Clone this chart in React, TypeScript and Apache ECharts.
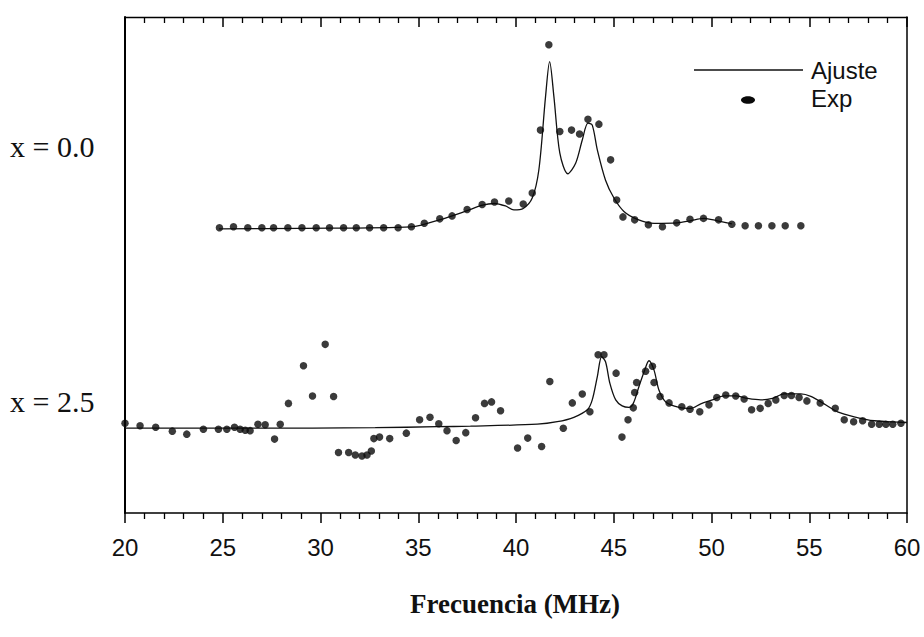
import React, { useEffect, useRef } from "react";
import * as echarts from "echarts";

// x = 0.0 : experimental points [MHz, a.u.]
const expTop: number[][] = [
  [24.83, 57.5], [25.55, 57.7], [26.28, 57.5], [27.0, 57.5], [27.6, 57.5], [28.33, 57.5],
  [29.05, 57.5], [29.78, 57.5], [30.46, 57.5], [31.18, 57.5], [31.83, 57.5], [32.51, 57.5],
  [33.23, 57.5], [33.97, 57.5], [34.65, 57.7], [35.31, 58.4], [36.1, 59.3], [36.73, 59.9],
  [37.5, 61.2], [38.27, 62.2], [38.9, 62.7], [39.63, 62.9], [40.37, 62.3], [40.83, 64.5],
  [41.25, 77.2], [41.68, 94.4], [42.24, 76.9], [42.84, 77.2], [43.25, 76.4], [43.68, 79.4],
  [44.24, 78.4], [44.84, 71.2], [45.15, 63.1], [45.47, 59.7], [46.07, 59.1], [46.77, 58.1],
  [47.49, 57.7], [48.22, 58.5], [48.9, 59.2], [49.59, 59.4], [50.36, 59.1], [51.04, 58.2],
  [51.72, 57.9], [52.4, 57.9], [53.09, 57.9], [53.77, 57.9], [54.57, 57.9],
];

// x = 0.0 : fit curve
const fitTop: number[][] = [
  [24.81, 57.3], [28.96, 57.4], [34.65, 57.7], [36.08, 59.1], [37.46, 60.9], [38.23, 62.0],
  [38.9, 62.4], [39.46, 61.9], [39.89, 61.1], [40.37, 61.4], [40.83, 63.5], [41.17, 69.2],
  [41.51, 83.9], [41.72, 91.0], [41.94, 83.9], [42.24, 72.6], [42.65, 68.4], [43.05, 70.5],
  [43.39, 75.2], [43.68, 78.6], [43.9, 78.2], [44.16, 73.2], [44.58, 67.1], [45.01, 63.5],
  [45.52, 60.8], [46.21, 59.2], [47.06, 58.4], [48.26, 58.5], [48.9, 58.9], [49.62, 59.4],
  [50.3, 58.9], [51.04, 58.3],
];

// x = 2.5 : experimental points
const expBottom: number[][] = [
  [20.0, 18.1], [20.77, 17.6], [21.57, 17.3], [22.42, 16.5], [23.16, 15.9], [24.01, 16.9],
  [24.78, 16.9], [25.21, 16.9], [25.6, 17.3], [25.89, 16.9], [26.15, 16.7], [26.4, 16.6],
  [26.8, 17.9], [27.17, 17.8], [27.65, 14.9], [27.94, 17.9], [28.36, 22.1], [29.13, 29.7],
  [29.59, 23.6], [30.24, 34.0], [30.67, 23.5], [30.92, 12.2], [31.44, 12.2], [31.78, 11.7],
  [32.12, 11.5], [32.38, 11.7], [32.6, 12.5], [32.73, 15.0], [33.02, 15.3], [33.54, 15.0],
  [34.39, 16.1], [35.07, 18.8], [35.6, 19.3], [36.05, 18.0], [36.47, 16.6], [36.94, 14.6],
  [37.43, 16.2], [37.93, 19.2], [38.39, 22.1], [38.75, 22.4], [39.21, 20.6], [40.08, 13.1],
  [40.6, 15.1], [41.31, 13.4], [41.73, 26.5], [42.42, 17.1], [42.88, 22.2], [43.39, 24.0],
  [43.78, 20.4], [44.2, 31.9], [44.5, 31.9], [45.12, 28.2], [45.42, 15.3], [45.73, 18.8],
  [46.0, 21.2], [46.07, 24.3], [46.17, 26.3], [46.63, 28.6], [46.98, 29.6], [47.06, 26.3],
  [47.37, 23.5], [47.83, 22.2], [48.48, 21.4], [48.9, 20.9], [49.4, 20.4], [49.87, 21.8],
  [50.27, 23.3], [50.73, 23.8], [51.24, 23.6], [51.67, 23.0], [52.05, 20.8], [52.49, 21.1],
  [52.9, 22.1], [53.29, 22.8], [53.72, 23.7], [54.09, 23.7], [54.48, 23.3], [54.88, 22.6],
  [55.56, 22.2], [56.33, 21.1], [56.79, 18.8], [57.27, 18.4], [57.73, 18.6], [58.19, 17.9],
  [58.58, 17.9], [58.92, 17.9], [59.27, 17.9], [59.69, 18.1],
];

// x = 2.5 : fit curve
const fitBottom: number[][] = [
  [20.0, 17.1], [26.4, 17.1], [32.8, 17.2], [35.96, 17.4], [37.67, 17.5], [41.09, 17.9],
  [42.11, 18.4], [42.96, 19.3], [43.65, 20.8], [43.9, 22.8], [44.16, 27.5], [44.38, 31.5],
  [44.58, 30.5], [44.8, 26.2], [45.1, 22.8], [45.43, 21.6], [45.78, 21.3], [46.0, 22.1],
  [46.29, 25.5], [46.58, 28.8], [46.8, 30.7], [47.06, 28.8], [47.31, 24.8], [47.66, 22.4],
  [48.34, 21.3], [48.94, 21.1], [49.45, 22.0], [50.05, 22.8], [50.64, 23.6], [51.24, 23.6],
  [51.84, 23.1], [52.52, 22.8], [53.12, 23.1], [53.72, 24.0], [54.57, 24.0], [55.08, 23.5],
  [55.76, 22.0], [56.45, 20.4], [57.3, 19.4], [58.33, 18.6], [59.69, 18.3], [60.0, 18.25],
];

const seriesLabels = ["x = 0.0", "x = 2.5"];
const legendNames = ["Ajuste", "Exp"];
const xTitle = "Frecuencia (MHz)";

const INK = "#000";

export default function App() {
  const ref = useRef<HTMLDivElement>(null);

  useEffect(() => {
    if (!ref.current) return;
    const chart = echarts.init(ref.current, undefined, { renderer: "svg" });

    const lineStyle = { color: "#111", width: 1.3 };
    const dot = { color: "#0a0a0a" };

    chart.setOption({
      animation: false,
      backgroundColor: "#fff",
      grid: { left: 125, right: 17, top: 17, bottom: 124, containLabel: false },
      xAxis: [
        {
          type: "value",
          position: "bottom",
          min: 20,
          max: 60,
          interval: 5,
          axisLine: { show: true, onZero: false, lineStyle: { color: INK, width: 1.5 } },
          axisTick: { show: true, inside: false, length: 10, lineStyle: { color: INK, width: 1.5 } },
          minorTick: { show: true, splitNumber: 5, length: 6, lineStyle: { color: INK, width: 1.3 } },
          axisLabel: {
            show: true,
            margin: 22,
            fontSize: 24,
            fontFamily: "Liberation Sans, Arial, sans-serif",
            color: "#111",
          },
          splitLine: { show: false },
          minorSplitLine: { show: false },
        },
        {
          type: "value",
          position: "top",
          min: 20,
          max: 60,
          interval: 5,
          axisLine: { show: true, onZero: false, lineStyle: { color: INK, width: 1.3 } },
          axisTick: { show: true, inside: true, length: 10, lineStyle: { color: INK, width: 1.5 } },
          minorTick: { show: true, splitNumber: 5, length: 6, lineStyle: { color: INK, width: 1.3 } },
          axisLabel: { show: false },
          splitLine: { show: false },
          minorSplitLine: { show: false },
        },
      ],
      yAxis: [
        {
          type: "value",
          position: "left",
          min: 0,
          max: 100,
          axisLine: { show: true, onZero: false, lineStyle: { color: INK, width: 2 } },
          axisTick: { show: false },
          axisLabel: { show: false },
          splitLine: { show: false },
        },
        {
          type: "value",
          position: "right",
          min: 0,
          max: 100,
          axisLine: { show: true, onZero: false, lineStyle: { color: INK, width: 1.5 } },
          axisTick: { show: false },
          axisLabel: { show: false },
          splitLine: { show: false },
        },
      ],
      series: [
        {
          name: legendNames[0],
          type: "line",
          data: fitTop,
          showSymbol: false,
          smooth: 0.3,
          lineStyle,
          z: 2,
        },
        {
          name: legendNames[0],
          type: "line",
          data: fitBottom,
          showSymbol: false,
          smooth: 0.3,
          lineStyle,
          z: 2,
        },
        {
          name: legendNames[1],
          type: "scatter",
          data: expTop,
          symbol: "circle",
          symbolSize: 7.5,
          itemStyle: dot,
          z: 3,
        },
        {
          name: legendNames[1],
          type: "scatter",
          data: expBottom,
          symbol: "circle",
          symbolSize: 7.5,
          itemStyle: dot,
          z: 3,
        },
      ],
      graphic: [
        {
          type: "text",
          left: 10,
          top: 131,
          style: {
            text: seriesLabels[0],
            font: "30px 'Liberation Serif', 'Times New Roman', serif",
            fill: "#111",
          },
        },
        {
          type: "text",
          left: 10,
          top: 386,
          style: {
            text: seriesLabels[1],
            font: "30px 'Liberation Serif', 'Times New Roman', serif",
            fill: "#111",
          },
        },
        {
          type: "line",
          shape: { x1: 694, y1: 70, x2: 803, y2: 70 },
          style: { stroke: "#111", lineWidth: 1.3 },
        },
        {
          type: "text",
          x: 811,
          y: 70,
          style: {
            text: legendNames[0],
            font: "24px 'Liberation Sans', Arial, sans-serif",
            fill: "#111",
            verticalAlign: "middle",
          },
        },
        {
          type: "ellipse",
          shape: { cx: 748, cy: 100, rx: 7, ry: 3.8 },
          style: { fill: "#0a0a0a" },
        },
        {
          type: "text",
          x: 811,
          y: 98,
          style: {
            text: legendNames[1],
            font: "24px 'Liberation Sans', Arial, sans-serif",
            fill: "#111",
            verticalAlign: "middle",
          },
        },
        {
          type: "text",
          x: 515,
          y: 604,
          style: {
            text: xTitle,
            font: "bold 27px 'Liberation Serif', 'Times New Roman', serif",
            fill: "#111",
            align: "center",
            verticalAlign: "middle",
          },
        },
      ],
    });

    return () => chart.dispose();
  }, []);

  return (
    <div
      ref={ref}
      style={{ position: "absolute", left: 0, top: 0, width: 924, height: 637, background: "#fff" }}
    />
  );
}
